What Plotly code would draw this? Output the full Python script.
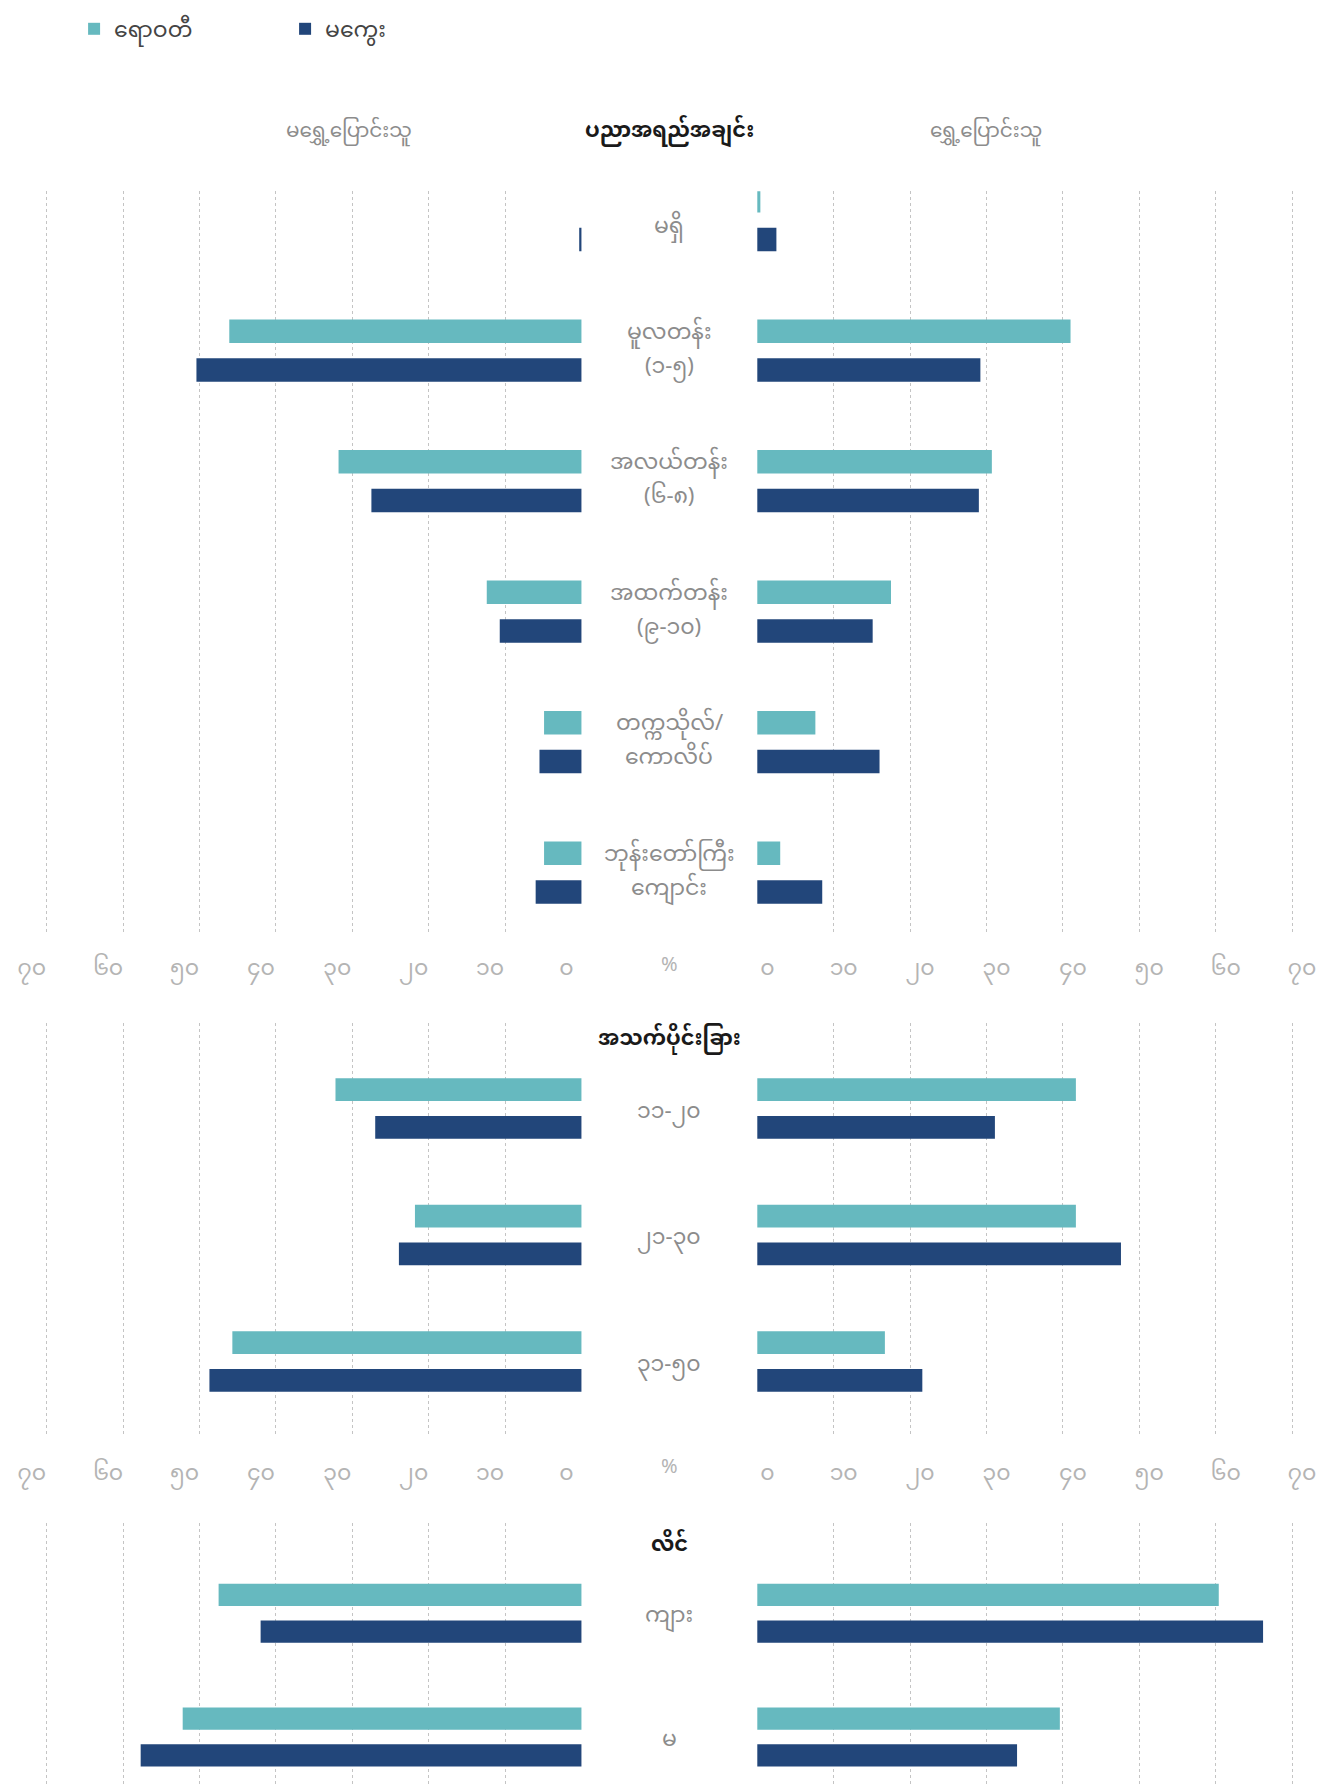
import plotly.graph_objects as go

# ---------------- data ----------------
series_names = ["ရောဝတီ", "မကွေး"]
colors = ["#66b9bf", "#22467a"]

edu_cats = ["မရှိ", "မူလတန်း<br>(၁-၅)", "အလယ်တန်း<br>(၆-၈)", "အထက်တန်း<br>(၉-၁၀)",
            "တက္ကသိုလ်/<br>ကောလိပ်", "ဘုန်းတော်ကြီး<br>ကျောင်း"]
edu_nonmig_a = [0.0, 46.1, 31.8, 12.4, 4.9, 4.9]
edu_nonmig_b = [0.3, 50.4, 27.5, 10.7, 5.5, 6.0]
edu_mig_a = [0.4, 41.0, 30.7, 17.5, 7.6, 3.0]
edu_mig_b = [2.5, 29.2, 29.0, 15.1, 16.0, 8.5]

age_cats = ["၁၁-၂၀", "၂၁-၃၀", "၃၁-၅၀"]
age_nonmig_a = [32.2, 21.8, 45.7]
age_nonmig_b = [27.0, 23.9, 48.7]
age_mig_a = [41.7, 41.7, 16.7]
age_mig_b = [31.1, 47.6, 21.6]

sex_cats = ["ကျား", "မ"]
sex_nonmig_a = [47.5, 52.2]
sex_nonmig_b = [42.0, 57.7]
sex_mig_a = [60.4, 39.6]
sex_mig_b = [66.2, 34.0]

tick_vals = [0, 10, 20, 30, 40, 50, 60, 70]
tick_text = ["၀", "၁၀", "၂၀", "၃၀", "၄၀", "၅၀", "၆၀", "၇၀"]

section_titles = ["ပညာအရည်အချင်း", "အသက်ပိုင်းခြား", "လိင်"]
col_titles = ["မရွှေ့ပြောင်းသူ", "ရွှေ့ပြောင်းသူ"]

# ---------------- layout helpers ----------------
W, H = 1335, 1787
OFF = 8  # page body margin
FONT = "Noto Sans Myanmar, Padauk, Myanmar Text, Noto Sans, sans-serif"
GRID = "#c4c4c4"
LABEL_GRAY = "#8c8c8c"
TICK_GRAY = "#b4b4b4"
PPU = 7.64  # px per percent


def px_x(p):
    return (p - OFF) / W


def px_y(p):
    return 1 - (p - OFF) / H


LPAD, RPAD = 0.2, 0.05
left_dom = [px_x(581.5 - 70 * PPU - LPAD * PPU), px_x(581.5 + RPAD * PPU)]
right_dom = [px_x(757.3 - RPAD * PPU), px_x(757.3 + 70 * PPU + LPAD * PPU)]

rows = [
    dict(cats=edu_cats, top=185, bot=929, rng=[5.458, -0.221],
         data=[edu_nonmig_a, edu_nonmig_b, edu_mig_a, edu_mig_b], ticks=True),
    dict(cats=age_cats, top=1020, bot=1436, rng=[2.60, -0.676],
         data=[age_nonmig_a, age_nonmig_b, age_mig_a, age_mig_b], ticks=True),
    dict(cats=sex_cats, top=1522, bot=1795, rng=[1.468, -0.728],
         data=[sex_nonmig_a, sex_nonmig_b, sex_mig_a, sex_mig_b], ticks=False),
]

fig = go.Figure()
layout = dict(
    template="none",
    width=W, height=H,
    margin=dict(l=0, r=0, t=0, b=0, pad=0),
    paper_bgcolor="white", plot_bgcolor="rgba(0,0,0,0)",
    barmode="group", bargap=0.405, bargroupgap=0.395,
    showlegend=True,
    font=dict(family=FONT, size=20, color=LABEL_GRAY),
    legend=dict(orientation="h", x=0.0495, y=px_y(21.6), xanchor="left", yanchor="middle",
                font=dict(family=FONT, size=22, color="#444444"),
                entrywidth=166, entrywidthmode="pixels", traceorder="normal",
                bgcolor="rgba(0,0,0,0)", borderwidth=0),
)
annotations = []

for r, row in enumerate(rows):
    yname = "y" if r == 0 else f"y{r+1}"
    ykey = "yaxis" if r == 0 else f"yaxis{r+1}"
    xl = 2 * r + 1
    xr = 2 * r + 2
    xlname = "x" if xl == 1 else f"x{xl}"
    xrname = f"x{xr}"
    xlkey = "xaxis" if xl == 1 else f"xaxis{xl}"
    xrkey = f"xaxis{xr}"

    ydom = [max(0.0, px_y(row["bot"])), px_y(row["top"])]
    layout[ykey] = dict(domain=ydom, anchor=xlname,
                        type="category", categoryorder="array", categoryarray=row["cats"],
                        range=row["rng"], showgrid=False, showticklabels=False,
                        zeroline=False, showline=False, fixedrange=True, automargin=False)
    common_x = dict(showgrid=True, gridcolor=GRID, griddash="dot", gridwidth=1,
                    tickvals=tick_vals, ticktext=tick_text, zeroline=False, showline=False,
                    ticks="", showticklabels=row["ticks"], anchor=yname, side="bottom",
                    tickfont=dict(family=FONT, size=22, color=TICK_GRAY),
                    ticklabelstandoff=20, fixedrange=True, automargin=False)
    layout[xlkey] = dict(common_x, domain=left_dom, range=[70 + LPAD, -RPAD], ticklabelshift=15)
    layout[xrkey] = dict(common_x, domain=right_dom, range=[-RPAD, 70 + LPAD], ticklabelshift=10)

    d = row["data"]
    for s in range(2):
        fig.add_trace(go.Bar(y=row["cats"], x=d[s], orientation="h", name=series_names[s],
                             marker=dict(color=colors[s], line=dict(width=0)),
                             xaxis=xlname, yaxis=yname, legendgroup=series_names[s],
                             showlegend=(r == 0), hoverinfo="x+y"))
    for s in range(2):
        fig.add_trace(go.Bar(y=row["cats"], x=d[2 + s], orientation="h", name=series_names[s],
                             marker=dict(color=colors[s], line=dict(width=0)),
                             xaxis=xrname, yaxis=yname, legendgroup=series_names[s],
                             showlegend=False, hoverinfo="x+y"))

    # category labels in the middle column, one annotation per line
    for ci, c in enumerate(row["cats"]):
        lines = c.split("<br>")
        if len(lines) == 1:
            ys = -8 if (r == 0 and ci == 0) else -4
            annotations.append(dict(x=px_x(669), xref="paper", y=c, yref=yname, text=c,
                                    showarrow=False, xanchor="center", yanchor="middle",
                                    yshift=ys,
                                    font=dict(family=FONT, size=22, color=LABEL_GRAY)))
        else:
            for k, ln in enumerate(lines):
                annotations.append(dict(x=px_x(669), xref="paper", y=c, yref=yname, text=ln,
                                        showarrow=False, xanchor="center", yanchor="middle",
                                        yshift=17 - 34 * k,
                                        font=dict(family=FONT, size=22, color=LABEL_GRAY)))

# section titles
title_y = [125.5, 1037.5, 1545]
for t, ty in zip(section_titles, title_y):
    annotations.append(dict(x=px_x(669), y=px_y(ty), xref="paper", yref="paper", text="<b>" + t + "</b>",
                            showarrow=False, xanchor="center", yanchor="middle",
                            font=dict(family=FONT, size=21, color="#1a1a1a")))
# column titles
annotations.append(dict(x=px_x(349), y=px_y(125.5), xref="paper", yref="paper", text=col_titles[0],
                        showarrow=False, xanchor="center", yanchor="middle",
                        font=dict(family=FONT, size=20, color=LABEL_GRAY)))
annotations.append(dict(x=px_x(986), y=px_y(125.5), xref="paper", yref="paper", text=col_titles[1],
                        showarrow=False, xanchor="center", yanchor="middle",
                        font=dict(family=FONT, size=20, color=LABEL_GRAY)))
# percent signs
for py in [963, 1467]:
    annotations.append(dict(x=px_x(669), y=px_y(py), xref="paper", yref="paper", text="%",
                            showarrow=False, xanchor="center", yanchor="middle",
                            font=dict(family=FONT, size=20, color=TICK_GRAY)))

layout["annotations"] = annotations
fig.update_layout(**layout)
fig.write_html("out.html")
